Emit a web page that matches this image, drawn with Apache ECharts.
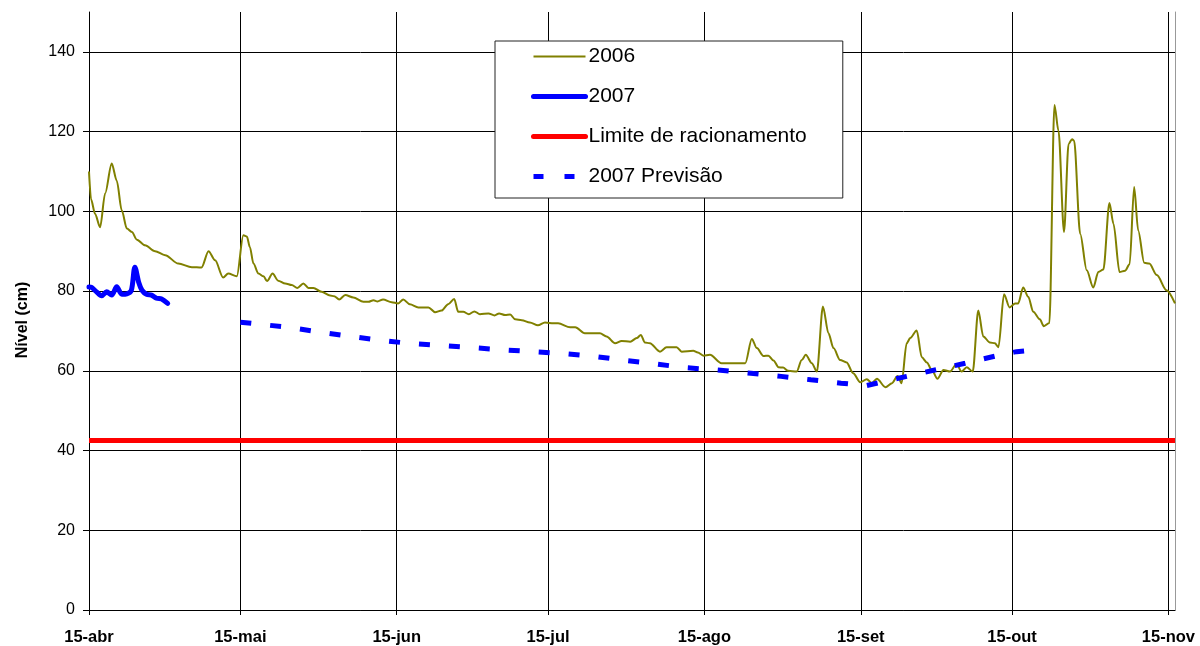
<!DOCTYPE html>
<html>
<head>
<meta charset="utf-8">
<script src="https://cdn.jsdelivr.net/npm/echarts@6/dist/echarts.min.js"></script>
<style>
html,body{margin:0;padding:0;background:#fff;}
#chart{width:1200px;height:646px;}
</style>
</head>
<body>
<div id="chart"></div>
<script>
// ---- data (x = days since 15-abr) ----
var tickDays = [0, 30, 61, 91, 122, 153, 183, 214];
var tickLabels = ['15-abr', '15-mai', '15-jun', '15-jul', '15-ago', '15-set', '15-out', '15-nov'];
var yTicks = [0, 20, 40, 60, 80, 100, 120, 140];

var days2006 = [0,0.4,1.2,2.2,3.2,4.5,5.5,6.5,7.5,8.5,9.5,11.1,13.1,15.1,17.7,20.4,22.3,23.7,25.0,26.6,27.6,29.3,30.6,31.3,31.9,32.6,33.6,34.6,35.3,36.4,37.5,38.9,40.2,41.3,42.5,43.5,44.5,46.1,47.8,48.6,49.6,50.8,52.4,54.4,55.4,56.4,57.2,58.3,60.0,61.3,62.3,63.6,65.3,67.3,68.6,69.9,71.2,72.4,73.2,74.2,75.3,76.4,77.5,79.2,80.4,81.3,82.5,83.5,84.5,85.8,87.4,89.0,90.4,92.1,93.0,95.4,96.4,98.3,101.3,102.6,104.3,105.6,107.3,108.6,109.4,110.2,111.2,113.2,114.5,116.5,117.5,119.8,120.7,121.8,123.1,125.4,127.7,130.1,131.4,132.4,133.7,134.7,135.7,136.7,137.6,138.6,140.3,141.3,142.1,143.3,144.3,145.5,146.6,147.6,148.9,150.2,151.5,152.9,154.2,155.2,156.2,157.9,159.2,160.3,161.1,162.1,162.8,164.1,165.1,166.1,167.1,168.2,169.4,170.7,172.0,173.0,174.0,175.2,176.3,177.3,178.6,179.6,180.3,181.4,182.5,183.6,184.2,185.2,186.2,187.2,188.5,189.3,190.4,191.4,192.2,193.3,194.2,194.9,195.3,196.5,197.8,199.1,200.1,201.1,202.3,203.1,204.3,205.4,206.3,207.2,208.0,209.2,210.2,211.7,213.6,215.3];
var level2006 = [110,103,99.4,96,104.5,112,107.7,100.2,95.7,94.8,92.9,91.5,90,89,86.9,86,85.9,90,87.7,83.4,84.4,83.7,94,93.7,91,86.9,84.4,83.7,82.5,84.4,82.6,81.9,81.5,80.8,81.9,80.8,80.8,79.8,78.9,78.7,77.9,79,78.4,77.3,77.3,77.7,77.4,77.9,77.2,76.9,77.9,76.7,75.9,75.9,74.7,75.1,76.7,78,74.8,74.8,74.2,74.9,74.2,74.4,73.9,74.4,74,74.1,72.9,72.7,72.1,71.4,72.1,71.9,71.9,70.9,70.9,69.4,69.4,68.6,66.9,67.5,67.3,68.2,69,67.1,66.9,64.8,65.9,65.9,64.8,65,64.6,63.8,64,61.9,61.9,61.9,68,65.7,63.7,63.8,62.6,60.9,60.8,60,59.8,62.7,64,61.9,59.8,76.1,69.4,65.7,62.7,62.1,59.4,57.1,57.9,56.9,58,55.9,56.9,58.7,56.9,66.9,68.2,70.1,63.4,62.1,60.2,58,60.2,59.8,61.7,59.8,60.9,59.8,75.1,68.6,67.1,66.9,65.9,79.2,75.9,76.9,76.9,80.9,78.6,74.8,72.9,71.2,72,126.7,120.2,94.8,116.9,118.1,117.7,94.4,85.2,80.9,84.8,85.4,102.1,96.9,84.8,85.1,86.7,106.1,95.2,87.1,86.9,84,80.2,76.9];

var days2007 = [0,0.5,1.5,2.5,3.5,4.5,5.5,6.5,7.5,8.4,9.1,9.9,10.5,11.4,12.4,13.4,14.4,15.6];
var level2007 = [81,80.9,79.8,78.8,79.8,79,81.1,79.2,79.3,80.2,86,82,80.2,79.2,79,78.2,78,76.9];

var daysLimit = [0, 215.3];
var levelLimit = [42.5, 42.5];

var daysForecast = [30,39.5,45.3,51.2,57.2,63.3,70.2,76.2,82.1,88.1,93.4,100.3,106.3,112.2,118.0,124.1,131.2,137.2,143.1,149.1,154.2,162.1,167.9,173.7,179.7,183.9,185.6];
var levelForecast = [72.2,70.9,69.8,68.75,67.75,66.9,66.3,65.8,65.25,64.8,64.4,63.6,62.6,61.75,60.8,60.25,59.4,58.6,57.75,56.9,56.3,58.6,60.25,61.9,63.7,64.8,65];

function pairs(xs, ys) { return xs.map(function (x, i) { return [x, ys[i]]; }); }

var chart = echarts.init(document.getElementById('chart'), null, {renderer: 'canvas'});
var font = 'Liberation Sans, Arial, sans-serif';
chart.setOption({
  animation: false,
  backgroundColor: '#fff',
  textStyle: {fontFamily: font},
  grid: {left: 89, right: 25, top: 12, bottom: 35, containLabel: false},
  legend: {
    orient: 'vertical',
    left: 495, top: 41,
    padding: [5, 36, 11, 36],
    itemGap: 19,
    itemWidth: 52, itemHeight: 14,
    backgroundColor: '#fff',
    borderColor: '#222', borderWidth: 1,
    itemStyle: {opacity: 0},
    textStyle: {fontSize: 21, color: '#000', fontFamily: font, padding: [0,0,0,-2]},
    data: [
      {name: '2006', lineStyle: {width: 2, color: '#808000'}},
      {name: '2007', lineStyle: {width: 5, color: '#0000FF', cap: 'round'}},
      {name: 'Limite de racionamento', lineStyle: {width: 5, color: '#FF0000', cap: 'round'}},
      {name: '2007 Previsão', lineStyle: {width: 5, color: '#0000FF', type: [10, 21]}}
    ]
  },
  xAxis: {
    type: 'value', min: 0, max: 215.3,
    axisLine: {show: true, lineStyle: {color: '#000', width: 1}},
    axisTick: {show: true, length: 5, customValues: tickDays, lineStyle: {color: '#000'}},
    axisLabel: {
      customValues: tickDays, margin: 19,
      fontSize: 16.5, fontWeight: 'bold', color: '#000', fontFamily: font,
      formatter: function (v) { var i = tickDays.indexOf(v); return i >= 0 ? tickLabels[i] : ''; }
    },
    splitLine: {show: true, lineStyle: {color: '#000', width: 1}}
  },
  yAxis: [{
    type: 'value', min: 0, max: 150,
    name: 'Nível (cm)', nameLocation: 'middle', nameGap: 58, nameRotate: 90,
    nameTextStyle: {fontSize: 16, fontWeight: 'bold', color: '#000', fontFamily: font, padding: [0, 18, 0, 0]},
    axisLine: {show: true, lineStyle: {color: '#000', width: 1}},
    axisTick: {show: true, length: 6, customValues: yTicks, lineStyle: {color: '#000'}},
    axisLabel: {customValues: yTicks, margin: 14, fontSize: 16, color: '#000', fontFamily: font},
    splitLine: {show: true, lineStyle: {color: '#000', width: 1}}
  }, {
    type: 'value', min: 0, max: 150, position: 'right',
    axisLine: {show: true, lineStyle: {color: '#999', width: 1}},
    axisTick: {show: false}, axisLabel: {show: false}, splitLine: {show: false}
  }],
  series: [
    {name: '2006', type: 'line', data: pairs(days2006, level2006), symbol: 'none',
     smooth: 0.3, smoothMonotone: 'x', lineStyle: {color: '#808000', width: 2}, itemStyle: {color: '#808000'}},
    {name: '2007', type: 'line', data: pairs(days2007, level2007), symbol: 'none',
     smooth: 0.3, lineStyle: {color: '#0000FF', width: 5, cap: 'round'}, itemStyle: {color: '#0000FF'}},
    {name: 'Limite de racionamento', type: 'line', data: pairs(daysLimit, levelLimit), symbol: 'none',
     lineStyle: {color: '#FF0000', width: 5}, itemStyle: {color: '#FF0000'}},
    {name: '2007 Previsão', type: 'line', data: pairs(daysForecast, levelForecast), symbol: 'none',
     lineStyle: {color: '#0000FF', width: 5, type: [11, 19]}, itemStyle: {color: '#0000FF'}}
  ]
});
</script>
</body>
</html>
